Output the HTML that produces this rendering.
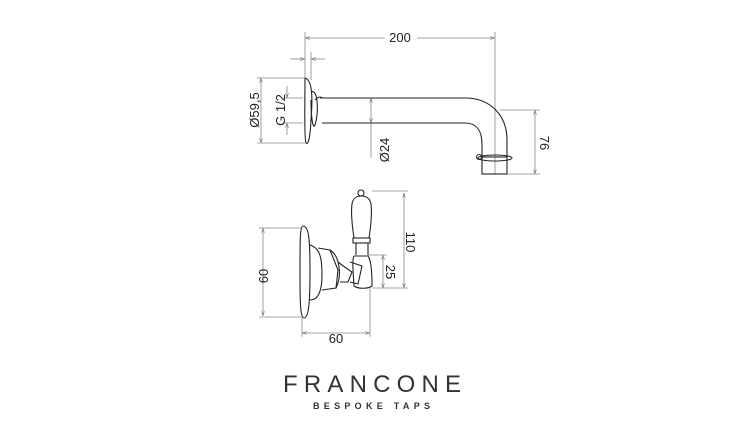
<!DOCTYPE html>
<html><head><meta charset="utf-8"><style>
html,body{margin:0;padding:0;background:#fff;}
svg{display:block;}
text{font-family:"Liberation Sans","DejaVu Sans",sans-serif;fill:#222;}
</style></head><body>
<svg width="750" height="422" viewBox="0 0 750 422" xmlns="http://www.w3.org/2000/svg">
<defs>
<marker id="a" viewBox="0 0 10 10" refX="10" refY="5" markerWidth="6" markerHeight="6" orient="auto-start-reverse"><path d="M0,2 L10,5 L0,8" fill="none" stroke="#777" stroke-width="1.2"/></marker>
</defs>
<g stroke="#888" stroke-width="0.8" fill="none">
<line x1="305" y1="38" x2="385" y2="38" marker-start="url(#a)"/>
<line x1="417" y1="38" x2="495" y2="38" marker-end="url(#a)"/>
<line x1="305" y1="32" x2="305" y2="80"/>
<line x1="495" y1="32" x2="495" y2="174"/>
<line x1="311" y1="52" x2="311" y2="80"/>
<line x1="290" y1="59" x2="305" y2="59" marker-end="url(#a)"/>
<line x1="325" y1="59" x2="311" y2="59" marker-end="url(#a)"/>
<line x1="261" y1="78" x2="261" y2="143" marker-start="url(#a)" marker-end="url(#a)"/>
<line x1="257" y1="78" x2="305" y2="78"/>
<line x1="257" y1="143" x2="305" y2="143"/>
<line x1="287" y1="86" x2="287" y2="98" marker-end="url(#a)"/>
<line x1="287" y1="135" x2="287" y2="123" marker-end="url(#a)"/>
<line x1="283" y1="98" x2="303" y2="98"/>
<line x1="283" y1="123" x2="303" y2="123"/>
<line x1="371" y1="98" x2="371" y2="123" marker-start="url(#a)" marker-end="url(#a)"/>
<line x1="371" y1="123" x2="371" y2="158"/>
<line x1="535" y1="110" x2="535" y2="174" marker-start="url(#a)" marker-end="url(#a)"/>
<line x1="500" y1="110" x2="540" y2="110"/>
<line x1="508" y1="174" x2="540" y2="174"/>
<line x1="404" y1="193" x2="404" y2="288" marker-start="url(#a)" marker-end="url(#a)"/>
<line x1="372" y1="191" x2="408" y2="191"/>
<line x1="372" y1="288" x2="408" y2="288"/>
<line x1="383" y1="255" x2="383" y2="288" marker-start="url(#a)" marker-end="url(#a)"/>
<line x1="368" y1="255" x2="387" y2="255"/>
<line x1="263" y1="228" x2="263" y2="316" marker-start="url(#a)" marker-end="url(#a)"/>
<line x1="259" y1="228" x2="302" y2="228"/>
<line x1="259" y1="317" x2="302" y2="317"/>
<line x1="302" y1="333" x2="370" y2="333" marker-start="url(#a)" marker-end="url(#a)"/>
<line x1="302" y1="318" x2="302" y2="337"/>
<line x1="370" y1="288" x2="370" y2="337"/>
</g>
<g stroke="#222" stroke-width="1.1" fill="none">
<path d="M305,78 C312,80 313,95 311,120 C310,140 308,145 306,143 C304,140 305,100 305,78"/>
<path d="M311,92 C318,88 319,112 315,125 C313,130 311,118 311,100"/>
<path d="M315,100 C318,96 322,97 322,98"/>
<path d="M320,98 L465,98 C490,98 507,115 507,140 L507,157"/>
<path d="M322,123 L465,123 C478,123 482,132 482,145 L482,157"/>
<rect x="482" y="157" width="25" height="17"/>
<ellipse cx="495" cy="158" rx="17" ry="3"/>
<circle cx="479" cy="157" r="2.5"/>
<path d="M303,226 C309,226 310,240 310,270 C310,300 309,318 304,318 C300,318 300,300 300,270 C300,240 300,226 303,226"/>
<path d="M310,245 C320,248 322,258 322,275 C322,292 318,300 310,300"/>
<path d="M318,248 L330,250 L338,270 L336,288 L322,290"/>
<path d="M330,250 C340,256 342,276 336,288"/>
<path d="M338,262 L346,268 L352,272 L348,282 L340,282"/>
<path d="M350,262 L362,266 L358,284 L350,282"/>
<path d="M354,256 L368,256 C371,260 372,270 372,286 C368,289 358,289 354,286 C353,270 352,260 354,256"/>
<path d="M356,243 L356,255 M368,243 L368,255"/>
<rect x="353" y="238" width="17" height="5"/>
<path d="M354,238 C352,225 351,212 352,204 C353,198 357,196 361,196 C366,196 370,198 371,204 C372,212 371,225 369,238"/>
<circle cx="361" cy="193" r="3"/>
</g>
<text x="400" y="42" font-size="13" text-anchor="middle">200</text>
<text transform="translate(259,110) rotate(-90)" font-size="13" text-anchor="middle">Ø59,5</text>
<text transform="translate(285,110) rotate(-90)" font-size="13" text-anchor="middle">G 1/2</text>
<text transform="translate(389,150) rotate(-90)" font-size="13" text-anchor="middle">Ø24</text>
<text transform="translate(540,143) rotate(90)" font-size="13" text-anchor="middle">76</text>
<text transform="translate(406,242) rotate(90)" font-size="13" text-anchor="middle">110</text>
<text transform="translate(386,272) rotate(90)" font-size="13" text-anchor="middle">25</text>
<text transform="translate(268,276) rotate(-90)" font-size="13" text-anchor="middle">60</text>
<text x="336" y="343" font-size="13" text-anchor="middle">60</text>
<text x="373" y="392" font-size="24" text-anchor="middle" style="fill:#333;letter-spacing:2px" textLength="180">FRANCONE</text>
<text x="373" y="409" font-size="9" text-anchor="middle" style="fill:#333;font-weight:bold;letter-spacing:3px" textLength="120">BESPOKE TAPS</text>
</svg>
</body></html>
